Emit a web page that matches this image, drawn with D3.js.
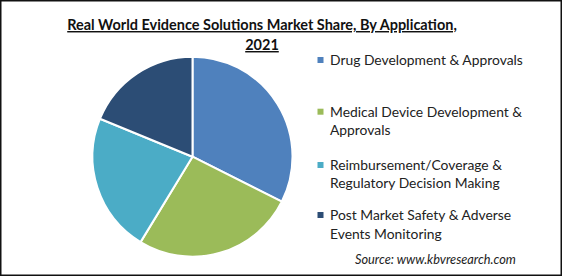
<!DOCTYPE html>
<html><head><meta charset="utf-8">
<script src="https://cdn.jsdelivr.net/npm/d3@7"></script>
<style>
html,body{margin:0;padding:0;background:#fff;}
svg{display:block;}
</style></head>
<body>
<script>
const categories = [
  ["Drug Development & Approvals"],
  ["Medical Device Development &", "Approvals"],
  ["Reimbursement/Coverage &", "Regulatory Decision Making"],
  ["Post Market Safety & Adverse", "Events Monitoring"]
];
const shares = [32.4, 26.3, 22.5, 18.8];
const colors = ["#4F81BD", "#9BBB59", "#4BACC6", "#2C4D75"];
const titleLines = ["Real World Evidence Solutions Market Share, By Application,", "2021"];
const sourceText = "Source:  www.kbvresearch.com";

const W = 562, H = 276;
const svg = d3.select("body").append("svg").attr("width", W).attr("height", H);
svg.append("rect").attr("x", 0.75).attr("y", 0.75).attr("width", W - 1.5).attr("height", H - 1.5)
  .attr("fill", "#fff").attr("stroke", "#111").attr("stroke-width", 1.5);

const font = "Lato, 'Open Sans', sans-serif";

function fit(sel, target) {
  const w = sel.node().getComputedTextLength();
  const fs = parseFloat(sel.attr("font-size"));
  sel.attr("font-size", fs * target / w);
}

// Title
const t1 = svg.append("text").attr("x", 262).attr("y", 30).attr("text-anchor", "middle")
  .attr("font-family", font).attr("font-weight", "bold").attr("font-size", 17)
  .attr("fill", "#111").attr("text-decoration", "underline").text(titleLines[0]);
fit(t1, 390);
const tfs = t1.attr("font-size");
svg.append("text").attr("x", 262).attr("y", 50).attr("text-anchor", "middle")
  .attr("font-family", font).attr("font-weight", "bold").attr("font-size", tfs)
  .attr("fill", "#111").attr("text-decoration", "underline").text(titleLines[1]);

// Pie
const cx = 192.5, cy = 156.7, r = 100;
const pie = d3.pie().sort(null).value(d => d)(shares);
const arc = d3.arc().innerRadius(0).outerRadius(r);
svg.append("g").attr("transform", `translate(${cx},${cy})`)
  .selectAll("path").data(pie).join("path")
  .attr("d", arc).attr("fill", (d, i) => colors[i])
  .attr("stroke", "#fff").attr("stroke-width", 2).attr("stroke-linejoin", "round");

// Legend
const rowY = [[60], [111.7, 130], [165, 182.7], [215, 234]];
const lg = svg.append("g");
let legendFs = 14;
categories.forEach((lines, i) => {
  lg.append("rect").attr("x", 317.5).attr("y", rowY[i][0] - 3).attr("width", 6).attr("height", 6)
    .attr("fill", colors[i]);
  lines.forEach((ln, j) => {
    const t = lg.append("text").attr("x", 330).attr("y", rowY[i][j]).attr("dy", "0.35em")
      .attr("font-family", font).attr("font-size", legendFs).attr("fill", "#222").text(ln);
    if (i === 0 && j === 0) { fit(t, 193); legendFs = +t.attr("font-size"); }
  });
});
lg.selectAll("text").attr("font-size", legendFs);

// Source
const s = svg.append("text").attr("x", 355).attr("y", 260).attr("dy", "0.35em")
  .attr("font-family", font).attr("font-style", "italic").attr("font-size", 12)
  .attr("fill", "#222").text(sourceText);
fit(s, 161);
</script>
</body></html>
